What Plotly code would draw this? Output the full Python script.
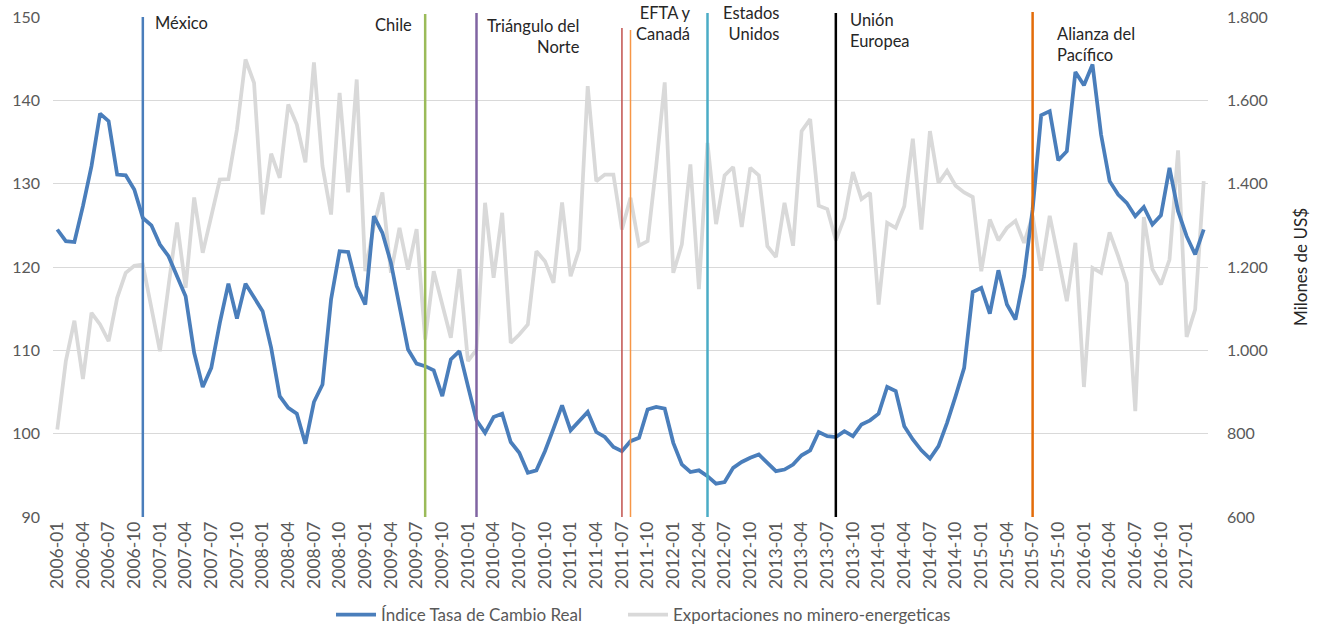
import plotly.graph_objects as go

# ---- categories (monthly, 2006-01 .. 2017-03) ----
meses = [f"{y}-{m:02d}" for y in range(2006, 2018) for m in range(1, 13)][:135]
tick_labels = meses[::3]

indice_tcr = [
    124.5, 123.1, 123.0, 127.3, 132.1, 138.4, 137.5, 131.1, 131.0, 129.3,
    125.9, 125.0, 122.7, 121.3, 118.9, 116.5, 109.7, 105.6, 107.9, 113.3,
    118.0, 113.8, 118.0, 116.3, 114.7, 110.3, 104.5, 103.1, 102.4, 98.8,
    103.8, 105.9, 116.1, 121.9, 121.8, 117.7, 115.5, 126.1, 124.1, 120.5,
    115.3, 110.1, 108.4, 108.1, 107.6, 104.5, 108.9, 109.9, 105.7, 101.6,
    100.1, 102.0, 102.4, 99.0, 97.7, 95.3, 95.6, 97.9, 100.6, 103.4,
    100.4, 101.5, 102.6, 100.2, 99.6, 98.4, 97.9, 99.1, 99.5, 102.9,
    103.2, 103.0, 98.9, 96.3, 95.4, 95.6, 94.9, 94.0, 94.2, 95.9,
    96.6, 97.1, 97.5, 96.5, 95.5, 95.7, 96.3, 97.4, 98.0, 100.2,
    99.7, 99.6, 100.3, 99.7, 101.1, 101.6, 102.4, 105.6, 105.1, 100.9,
    99.3, 98.0, 97.0, 98.5, 101.3, 104.5, 107.9, 117.0, 117.5, 114.4,
    119.6, 115.5, 113.7, 118.9, 126.9, 138.2, 138.7, 132.8, 133.9, 143.4,
    141.8, 144.3, 135.9, 130.3, 128.7, 127.7, 126.1, 127.2, 125.1, 126.2,
    131.9, 126.7, 123.7, 121.5, 124.5,
]

exportaciones = [
    810, 974, 1071, 931, 1090, 1062, 1022, 1126, 1186, 1203,
    1206, 1102, 998, 1154, 1307, 1150, 1367, 1234, 1322, 1410,
    1411, 1530, 1698, 1642, 1326, 1472, 1414, 1590, 1542, 1451,
    1691, 1442, 1326, 1618, 1379, 1650, 1190, 1298, 1379, 1186,
    1294, 1194, 1291, 1026, 1190, 1114, 1030, 1195, 974, 1002,
    1354, 1174, 1330, 1018, 1038, 1062, 1238, 1214, 1162, 1355,
    1178, 1242, 1634, 1406, 1422, 1422, 1290, 1366, 1251, 1262,
    1442, 1643, 1186, 1254, 1446, 1147, 1498, 1303, 1420, 1440,
    1296, 1438, 1420, 1250, 1224, 1354, 1251, 1526, 1555, 1347,
    1339, 1264, 1318, 1428, 1363, 1378, 1110, 1306, 1294, 1346,
    1508, 1290, 1526, 1402, 1431, 1395, 1379, 1368, 1190, 1314,
    1264, 1294, 1311, 1258, 1323, 1191, 1323, 1222, 1118, 1258,
    912, 1198, 1186, 1283, 1226, 1162, 854, 1320, 1195, 1158,
    1218, 1480, 1032, 1098, 1406,
]

# ---- trade agreements (events) ----
evento_fechas = ["2006-11", "2009-08", "2010-02", "2011-07", "2011-08", "2012-05", "2013-08", "2015-07"]
evento_colores = ["#4A7EBB", "#9BBB59", "#8064A2", "#C0504D", "#F79646", "#4BACC6", "#000000", "#E36C09"]
evento_anchos = [2.5, 2.5, 2.5, 1.5, 1.5, 2.5, 2.5, 2.5]
evento_top = [1.0, 1.006, 1.008, 0.978, 0.974, 1.008, 1.008, 1.01]

etiquetas = ["México", "Chile", "Triángulo del<br>Norte", "EFTA y<br>Canadá",
             "Estados<br>Unidos", "Unión<br>Europea", "Alianza del<br>Pacífico"]
etiqueta_evento = [0, 1, 2, 4, 5, 6, 7]
etiqueta_anchor = ["left", "right", "left", "left", "left", "left", "left"]
etiqueta_align = ["left", "right", "right", "right", "right", "left", "left"]
etiqueta_shift = [10, -11, 8, 3, 13, 12, 22]
etiqueta_y = [1.012, 1.008, 1.006, 1.032, 1.032, 1.018, 0.99]

FONT = "Lato, 'Open Sans', sans-serif"

fig = go.Figure()
fig.add_trace(go.Scatter(
    x=meses, y=exportaciones, name="Exportaciones no minero-energeticas",
    mode="lines", line=dict(color="#D9D9D9", width=3.75), yaxis="y", legend="legend2",
))
fig.add_trace(go.Scatter(
    x=meses, y=indice_tcr, name="Índice Tasa de Cambio Real",
    mode="lines", line=dict(color="#4A7EBB", width=3.75), yaxis="y2", legend="legend",
))

idx = {m: i for i, m in enumerate(meses)}
shapes = []
for f, c, w, t in zip(evento_fechas, evento_colores, evento_anchos, evento_top):
    shapes.append(dict(type="line", xref="x", yref="paper", x0=idx[f], x1=idx[f],
                       y0=0, y1=t, line=dict(color=c, width=w), layer="above"))

annotations = []
for txt, ev, anc, al, sh, yy in zip(etiquetas, etiqueta_evento, etiqueta_anchor,
                                     etiqueta_align, etiqueta_shift, etiqueta_y):
    annotations.append(dict(x=idx[evento_fechas[ev]], xref="x", y=yy, yref="paper",
                            text=txt, showarrow=False, xanchor=anc, yanchor="top",
                            align=al, xshift=sh,
                            font=dict(family=FONT, size=16.5, color="#262626")))

leg_common = dict(orientation="h", xanchor="left", y=-0.196, yanchor="middle",
                  itemwidth=40,
                  font=dict(size=17, color="#595959"), bgcolor="rgba(0,0,0,0)")

fig.update_layout(
    width=1322, height=627,
    margin=dict(l=53, r=114, t=17, b=110, autoexpand=False),
    paper_bgcolor="white", plot_bgcolor="white",
    font=dict(family=FONT, size=16, color="#595959"),
    separators=",.",
    showlegend=True,
    legend=dict(x=0.2407, **leg_common),
    legend2=dict(x=0.4935, **leg_common),
    xaxis=dict(type="category", range=[-0.5, 134.5], tickmode="array",
               tickvals=tick_labels, ticktext=tick_labels, tickangle=-90,
               showgrid=False, zeroline=False, showline=False, ticks="",
               automargin=False, ticklabeloverflow="allow",
               tickfont=dict(size=17.5, color="#595959")),
    yaxis=dict(side="right", range=[600, 1800], dtick=200, tickformat=",d",
               showgrid=True, gridcolor="#D9D9D9", gridwidth=1, zeroline=False,
               showline=False, ticks="", ticklabelstandoff=18, automargin=False,
               ticklabeloverflow="allow",
               title=dict(text="Milones de US$", standoff=28,
                          font=dict(size=17, color="#262626")),
               tickfont=dict(size=16, color="#595959")),
    yaxis2=dict(side="left", overlaying="y", range=[90, 150], dtick=10,
                showgrid=False, zeroline=False, showline=False, ticks="",
                automargin=False, ticklabelstandoff=12, ticklabeloverflow="allow",
                tickfont=dict(size=16, color="#595959")),
    shapes=shapes, annotations=annotations,
)

fig.write_html("out.html", config={"displayModeBar": False},
               post_script="document.body.style.margin='0px';")
